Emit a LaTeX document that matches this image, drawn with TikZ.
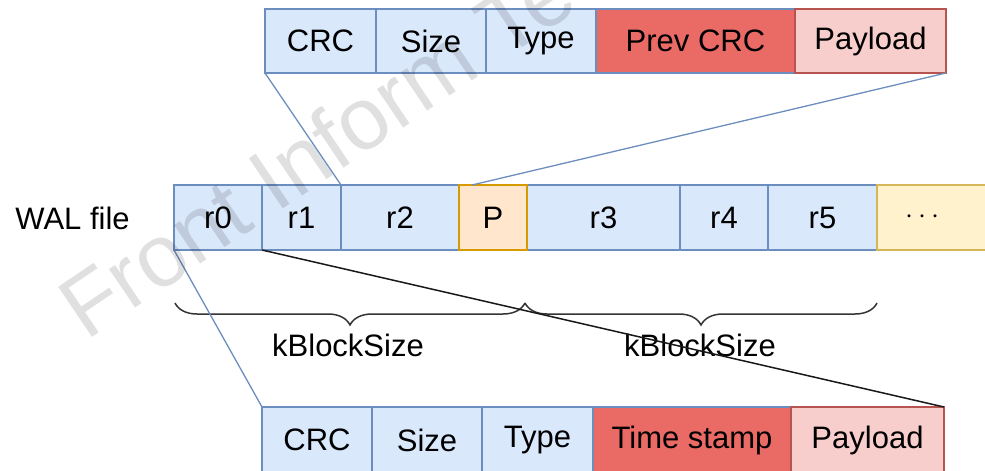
\documentclass[tikz,border=0pt]{standalone}
\usepackage{fontspec}
\setmainfont{Liberation Sans}
\usetikzlibrary{decorations.pathreplacing,calc}
\definecolor{bfill}{HTML}{DAE8FC}
\definecolor{bdraw}{HTML}{6C8EBF}
\definecolor{rfill}{HTML}{EA6B66}
\definecolor{pfill}{HTML}{F8CECC}
\definecolor{pdraw}{HTML}{B85450}
\definecolor{ofill}{HTML}{FFE6CC}
\definecolor{odraw}{HTML}{D79B00}
\definecolor{yfill}{HTML}{FFF2CC}
\definecolor{ydraw}{HTML}{D6B656}
\newcommand\mkcell[7]{\node[cell,#6,minimum width={(#3-#2)*0.5pt},minimum height={(#5-#4)*0.5pt}] (#1) at (#2,#4) {#7};}
\begin{document}
\begin{tikzpicture}[x=0.5pt,y=-0.5pt,
  cell/.style={draw=bdraw, fill=bfill, line width=0.75pt, anchor=north west, inner sep=0pt, outer sep=0pt, font=\fontsize{15.5}{18}\selectfont, text=black},
  redcell/.style={fill=rfill},
  paycell/.style={fill=pfill, draw=pdraw},
  pcell/.style={fill=ofill, draw=odraw},
  dotcell/.style={fill=yfill, draw=ydraw},
  bline/.style={draw=bdraw, line width=0.65pt},
  kline/.style={draw=black!90, line width=0.75pt},
  bracestyle/.style={draw=black!80, line width=0.75pt, decorate, decoration={brace, mirror, amplitude=11pt}},
  lbl/.style={font=\fontsize{15.5}{18}\selectfont, text=black, inner sep=0pt}]
\useasboundingbox (0,0) rectangle (985,471);
% top record
\mkcell{tCRC}{265}{376}{9}{73}{}{CRC}
\mkcell{tSize}{376}{486}{9}{73}{}{Size}
\mkcell{tType}{486}{596}{9}{73}{}{Type}
\mkcell{tPrev}{596}{795}{9}{73}{redcell}{Prev CRC}
\mkcell{tPay}{795}{946}{9}{73}{paycell}{Payload}
% WAL file
\node[lbl, anchor=west] (wal) at (15,218) {WAL file};
\mkcell{r0}{174}{262}{185}{250}{}{r0}
\mkcell{r1}{262}{341}{185}{250}{}{r1}
\mkcell{r2}{341}{459}{185}{250}{}{r2}
\mkcell{r3}{527}{680}{185}{250}{}{r3}
\mkcell{r4}{680}{768}{185}{250}{}{r4}
\mkcell{r5}{768}{877}{185}{250}{}{r5}
\mkcell{P}{459}{527}{185}{250}{pcell}{P}
\mkcell{more}{877}{1000}{185}{250}{dotcell}{\hspace*{-16pt}$\cdots$}
% bottom record
\mkcell{bCRC}{262}{372}{407}{473}{}{CRC}
\mkcell{bSize}{372}{482}{407}{473}{}{Size}
\mkcell{bType}{482}{593}{407}{473}{}{Type}
\mkcell{bTime}{593}{791}{407}{473}{redcell}{Time stamp}
\mkcell{bPay}{791}{944}{407}{473}{paycell}{Payload}
% braces
\coordinate (k0) at (175,303);
\coordinate (k1) at (525,303);
\coordinate (k2) at (877,303);
\draw[bracestyle] (k0) -- (k1);
\draw[bracestyle] (k1) -- (k2);
\node[lbl] (kb1) at (348,345) {kBlockSize};
\node[lbl] (kb2) at (700,345) {kBlockSize};
% connectors
\coordinate (pin) at (472,185);
\draw[bline] (tCRC.south west) -- (r1.north east);
\draw[bline] (tPay.south east) -- (pin);
\draw[bline] (r0.south west) -- (bCRC.north west);
\draw[kline] (r1.south west) -- (bPay.north east);
% watermark
\begin{scope}
\clip (0,0) rectangle (985,471);
\node[rotate=34, text=black, text opacity=0.12, font=\fontsize{44}{44}\selectfont, anchor=base west, inner sep=0pt] (wm) at (86,342) {Front Inform Technol};
\end{scope}
\end{tikzpicture}
\end{document}
